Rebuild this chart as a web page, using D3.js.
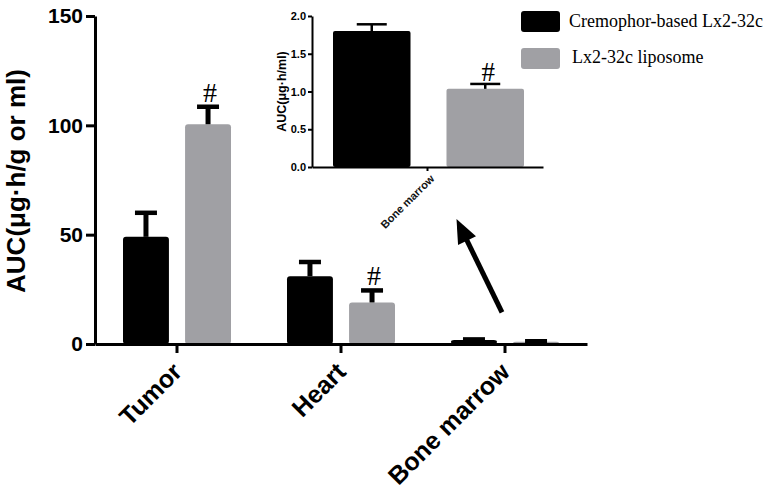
<!DOCTYPE html>
<html><head><meta charset="utf-8">
<script src="https://cdn.jsdelivr.net/npm/d3@7"></script>
<style>body{margin:0;background:#fff}svg{display:block}</style>
</head><body>
<svg id="c" width="766" height="492"></svg>
<script>
// ---- data ----
const categories = ["Tumor", "Heart", "Bone marrow"];
const series = ["Cremophor-based Lx2-32c", "Lx2-32c liposome"];
const cremophor = [49, 31, 1.8];
const cremophorErr = [11, 6.5, 0.3];
const liposome = [100.5, 19, 1.0];
const liposomeErr = [8, 5.5, 0.25];
const significant = [false, true, false, true, false, false]; // per bar: cremo, lipo for each category
const yTicks = [0, 50, 100, 150];
const insetCategory = ["Bone marrow"];
const insetCremophor = [1.80];
const insetCremophorErr = [0.09];
const insetLiposome = [1.035];
const insetLiposomeErr = [0.065];
const insetSignificant = [false, true];
const insetTicks = [0, 0.5, 1.0, 1.5, 2.0];
const colors = ["#000000", "#a0a0a4"];

const svg = d3.select("#c");
const sans = "'Liberation Sans', Arial, sans-serif";
const serif = "'Liberation Serif', 'Times New Roman', serif";

// ---- main chart ----
const x = d3.scaleBand().domain(categories).range([95, 587]).paddingInner(0).paddingOuter(0);
const xs = d3.scaleBand().domain(series).range([28, 136]).paddingInner(0.26);
const y = d3.scaleLinear().domain([0, 150]).range([344, 16]);

const rows = [];
categories.forEach((c, i) => {
  rows.push({c, s: series[0], v: cremophor[i], e: cremophorErr[i], col: colors[0], sig: significant[i*2]});
  rows.push({c, s: series[1], v: liposome[i], e: liposomeErr[i], col: colors[1], sig: significant[i*2+1]});
});

const g = svg.append("g");
g.selectAll("rect.bar").data(rows).join("rect")
  .attr("x", d => x(d.c) + xs(d.s))
  .attr("width", xs.bandwidth())
  .attr("y", d => y(d.v))
  .attr("height", d => y(0) - y(d.v))
  .attr("rx", 3)
  .attr("fill", d => d.col);

// error bars
const eg = g.selectAll("g.err").data(rows).join("g");
eg.append("line")
  .attr("x1", d => x(d.c) + xs(d.s) + xs.bandwidth()/2)
  .attr("x2", d => x(d.c) + xs(d.s) + xs.bandwidth()/2)
  .attr("y1", d => y(d.v))
  .attr("y2", d => y(d.v + d.e))
  .attr("stroke", "#000").attr("stroke-width", 5);
eg.append("line")
  .attr("x1", d => x(d.c) + xs(d.s) + xs.bandwidth()/2 - 11)
  .attr("x2", d => x(d.c) + xs(d.s) + xs.bandwidth()/2 + 11)
  .attr("y1", d => y(d.v + d.e))
  .attr("y2", d => y(d.v + d.e))
  .attr("stroke", "#000").attr("stroke-width", 4.5);

g.selectAll("text.sig").data(rows.filter(d => d.sig)).join("text")
  .attr("x", d => x(d.c) + xs(d.s) + xs.bandwidth()/2 + 2)
  .attr("y", d => y(d.v + d.e) - 5)
  .attr("text-anchor", "middle")
  .attr("font-family", serif).attr("font-size", 28)
  .text("#");

// axes
const ya = svg.append("g").attr("transform", "translate(95,0)")
  .call(d3.axisLeft(y).tickValues(yTicks).tickSize(9).tickPadding(3).tickSizeOuter(0));
ya.select(".domain").attr("stroke-width", 3);
ya.selectAll(".tick line").attr("stroke-width", 3);
ya.selectAll(".tick text").attr("font-family", sans).attr("font-weight", "bold").attr("font-size", 21).attr("fill", "#000");

const xa = svg.append("g").attr("transform", "translate(0,344)")
  .call(d3.axisBottom(x).tickSize(9).tickSizeOuter(0));
xa.select(".domain").attr("stroke-width", 3);
xa.selectAll(".tick line").attr("stroke-width", 3);
xa.selectAll(".tick text")
  .attr("font-family", sans).attr("font-weight", "bold").attr("font-size", 25).attr("fill", "#000")
  .attr("text-anchor", "end")
  .attr("transform", "translate(-6,17) rotate(-45)")
  .attr("dy", "0.7em").attr("y", 0);

svg.append("text")
  .attr("transform", `translate(25,${(y(0)+y(150))/2+1}) rotate(-90)`)
  .attr("text-anchor", "middle")
  .attr("font-family", sans).attr("font-weight", "bold").attr("font-size", 26)
  .text("AUC(μg·h/g or ml)");

// ---- inset ----
const xi = d3.scaleBand().domain(insetCategory).range([312, 543]);
const xis = d3.scaleBand().domain(series).range([21, 212]).paddingInner(0.317);
const yi = d3.scaleLinear().domain([0, 2.0]).range([167, 16]);
const irows = [
  {c: insetCategory[0], s: series[0], v: insetCremophor[0], e: insetCremophorErr[0], col: colors[0], sig: insetSignificant[0]},
  {c: insetCategory[0], s: series[1], v: insetLiposome[0], e: insetLiposomeErr[0], col: colors[1], sig: insetSignificant[1]}
];
const ig = svg.append("g");
ig.selectAll("rect").data(irows).join("rect")
  .attr("x", d => xi(d.c) + xis(d.s))
  .attr("width", xis.bandwidth())
  .attr("y", d => yi(d.v))
  .attr("height", d => yi(0) - yi(d.v))
  .attr("rx", 2)
  .attr("fill", d => d.col);
const ieg = ig.selectAll("g.e").data(irows).join("g");
ieg.append("line")
  .attr("x1", d => xi(d.c) + xis(d.s) + xis.bandwidth()/2)
  .attr("x2", d => xi(d.c) + xis(d.s) + xis.bandwidth()/2)
  .attr("y1", d => yi(d.v)).attr("y2", d => yi(d.v + d.e))
  .attr("stroke", "#000").attr("stroke-width", 2.5);
ieg.append("line")
  .attr("x1", d => xi(d.c) + xis(d.s) + xis.bandwidth()/2 - 15)
  .attr("x2", d => xi(d.c) + xis(d.s) + xis.bandwidth()/2 + 15)
  .attr("y1", d => yi(d.v + d.e)).attr("y2", d => yi(d.v + d.e))
  .attr("stroke", "#000").attr("stroke-width", 2.5);
ig.selectAll("text.sig").data(irows.filter(d => d.sig)).join("text")
  .attr("x", d => xi(d.c) + xis(d.s) + xis.bandwidth()/2 + 3)
  .attr("y", d => yi(d.v + d.e) - 3)
  .attr("text-anchor", "middle")
  .attr("font-family", serif).attr("font-size", 27)
  .text("#");

const iya = svg.append("g").attr("transform", "translate(312,0)")
  .call(d3.axisLeft(yi).tickValues(insetTicks).tickFormat(d3.format(".1f")).tickSize(4).tickPadding(2).tickSizeOuter(0));
iya.select(".domain").attr("stroke-width", 2);
iya.selectAll(".tick line").attr("stroke-width", 2);
iya.selectAll(".tick text").attr("font-family", sans).attr("font-weight", "bold").attr("font-size", 11).attr("fill", "#000");
const ixa = svg.append("g").attr("transform", "translate(0,167)")
  .call(d3.axisBottom(xi).tickSize(4).tickSizeOuter(0));
ixa.select(".domain").attr("stroke-width", 2);
ixa.selectAll(".tick line").attr("stroke-width", 2);
ixa.selectAll(".tick text")
  .attr("font-family", sans).attr("font-weight", "bold").attr("font-size", 11).attr("fill", "#111")
  .attr("text-anchor", "end")
  .attr("transform", "translate(2,7) rotate(-45)")
  .attr("dy", "0.7em").attr("y", 0);
svg.append("text")
  .attr("transform", `translate(286,${(yi(0)+yi(2))/2}) rotate(-90)`)
  .attr("text-anchor", "middle")
  .attr("font-family", sans).attr("font-weight", "bold").attr("font-size", 12.5)
  .text("AUC(μg·h/ml)");

// ---- arrow from bone marrow bars to inset ----
const tail = [x("Bone marrow") + x.bandwidth()/2 - 3, y(14.5)];
const tip = [xi("Bone marrow") + xi.bandwidth()/2 + 29, yi(0) + 52];
const ang = Math.atan2(tip[1] - tail[1], tip[0] - tail[0]);
const hl = 24, hw = 10;
const base = [tip[0] - hl*Math.cos(ang), tip[1] - hl*Math.sin(ang)];
svg.append("line")
  .attr("x1", tail[0]).attr("y1", tail[1]).attr("x2", base[0] + 3*Math.cos(ang)).attr("y2", base[1] + 3*Math.sin(ang))
  .attr("stroke", "#000").attr("stroke-width", 5);
svg.append("path")
  .attr("d", d3.line()([
    tip,
    [base[0] + hw*Math.sin(ang), base[1] - hw*Math.cos(ang)],
    [base[0] - hw*Math.sin(ang), base[1] + hw*Math.cos(ang)]
  ]) + "Z")
  .attr("fill", "#000");

// ---- legend ----
const lg = svg.append("g");
const ly = d3.scaleBand().domain(series).range([11, 69]).paddingInner(0.43);
lg.selectAll("rect").data(series).join("rect")
  .attr("x", 521).attr("width", 39)
  .attr("y", d => ly(d)).attr("height", ly.bandwidth()).attr("rx", 3)
  .attr("fill", (d, i) => colors[i]);
lg.selectAll("text").data(series).join("text")
  .attr("x", (d, i) => i === 0 ? 569 : 572)
  .attr("y", d => ly(d) + 15.5)
  .attr("font-family", serif).attr("font-size", 18)
  .text(d => d);
</script>
</body></html>
